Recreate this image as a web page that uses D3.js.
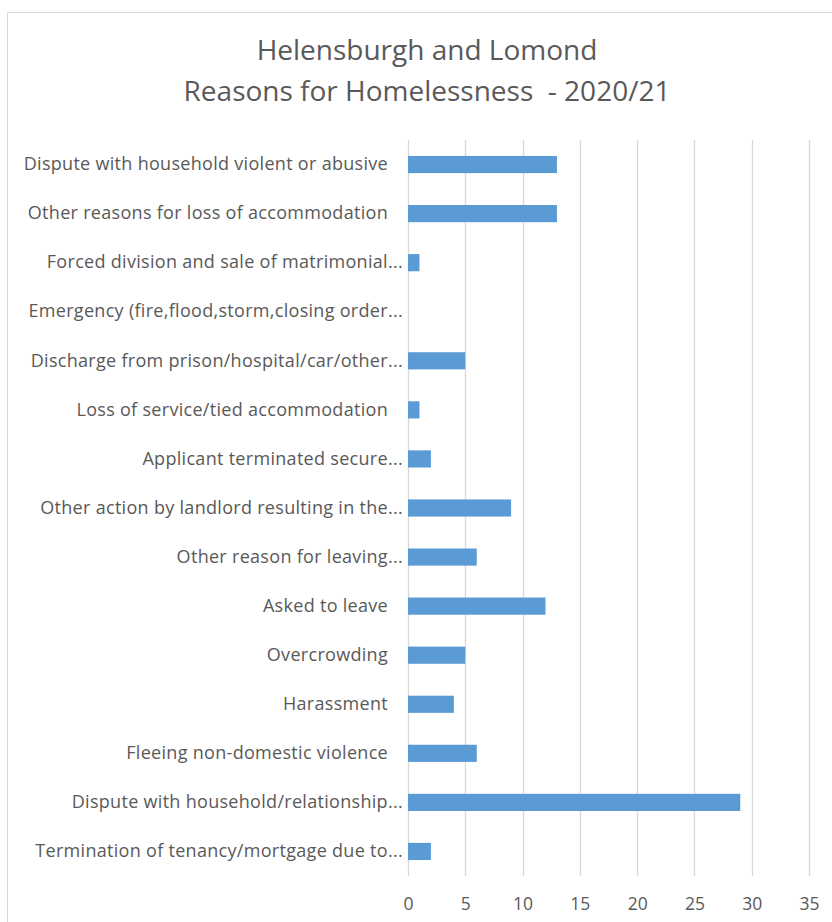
<!DOCTYPE html>
<html lang="en">
<head>
<meta charset="utf-8">
<title>Reasons for Homelessness</title>
<script src="https://d3js.org/d3.v7.min.js"></script>
<style>
  body { margin: 0; background: #fff; }
  text { font-family: "Open Sans", sans-serif; fill: #595959; white-space: pre; }
</style>
</head>
<body>
<div id="chart"></div>
<script>
const titleLines = ["Helensburgh and Lomond", "Reasons for Homelessness  - 2020/21"];
const categories = [
  "Dispute with household violent or abusive",
  "Other reasons for loss of accommodation",
  "Forced division and sale of matrimonial...",
  "Emergency (fire,flood,storm,closing order...",
  "Discharge from prison/hospital/car/other...",
  "Loss of service/tied accommodation",
  "Applicant terminated secure...",
  "Other action by landlord resulting in the...",
  "Other reason for leaving...",
  "Asked to leave",
  "Overcrowding",
  "Harassment",
  "Fleeing non-domestic violence",
  "Dispute with household/relationship...",
  "Termination of tenancy/mortgage due to..."
];
const values = [13, 13, 1, 0, 5, 1, 2, 9, 6, 12, 5, 4, 6, 29, 2];
const xTicks = [0, 5, 10, 15, 20, 25, 30, 35];

const width = 832, height = 922;
const plotLeft = 408, plotRight = 809, plotTop = 140, plotBottom = 876;

const svg = d3.select("#chart").append("svg")
  .attr("width", width).attr("height", height);

// chart frame
svg.append("rect")
  .attr("x", 7.5).attr("y", 12.5)
  .attr("width", 900).attr("height", 1000)
  .attr("fill", "none").attr("stroke", "#d9d9d9");

// title
svg.append("g").selectAll("text")
  .data(titleLines)
  .enter().append("text")
  .attr("x", 427)
  .attr("y", (d, i) => 60 + i * 41)
  .attr("text-anchor", "middle")
  .style("font-size", "28px")
  .text(d => d);

const x = d3.scaleLinear().domain([0, 35]).range([plotLeft, plotRight]);
const y = d3.scaleBand().domain(categories).range([plotTop, plotBottom]).paddingInner(0.65).paddingOuter(0.325);

// gridlines
svg.append("g").selectAll("line")
  .data(xTicks)
  .enter().append("line")
  .attr("x1", d => Math.round(x(d)) + 0.5).attr("x2", d => Math.round(x(d)) + 0.5)
  .attr("y1", plotTop).attr("y2", plotBottom)
  .attr("stroke", "#d9d9d9").attr("stroke-width", 1.3);

// x axis labels
const xAxis = d3.axisBottom(x).tickValues(xTicks).tickSize(0).tickPadding(0);
const gx = svg.append("g")
  .attr("transform", `translate(0, ${plotBottom + 22})`)
  .call(xAxis);
gx.select(".domain").remove();
gx.selectAll("text").style("font-size", "17.5px").style("fill", "#595959").attr("font-family", null);

// y axis labels (full labels sit a bit further left than the truncated ones)
const yAxis = d3.axisLeft(y).tickSize(0).tickPadding(0);
const gy = svg.append("g")
  .attr("transform", `translate(${plotLeft - 5}, 0)`)
  .call(yAxis);
gy.select(".domain").remove();
gy.selectAll("text").style("font-size", "18px").style("letter-spacing", "0.3px")
  .style("fill", "#595959").attr("font-family", null)
  .attr("dx", d => d.endsWith("...") ? 0 : -15);

// bars
svg.append("g").selectAll("rect")
  .data(values)
  .enter().append("rect")
  .attr("x", x(0))
  .attr("y", (d, i) => y(categories[i]))
  .attr("width", d => x(d) - x(0))
  .attr("height", y.bandwidth())
  .attr("fill", "#5b9bd5");
</script>
</body>
</html>
